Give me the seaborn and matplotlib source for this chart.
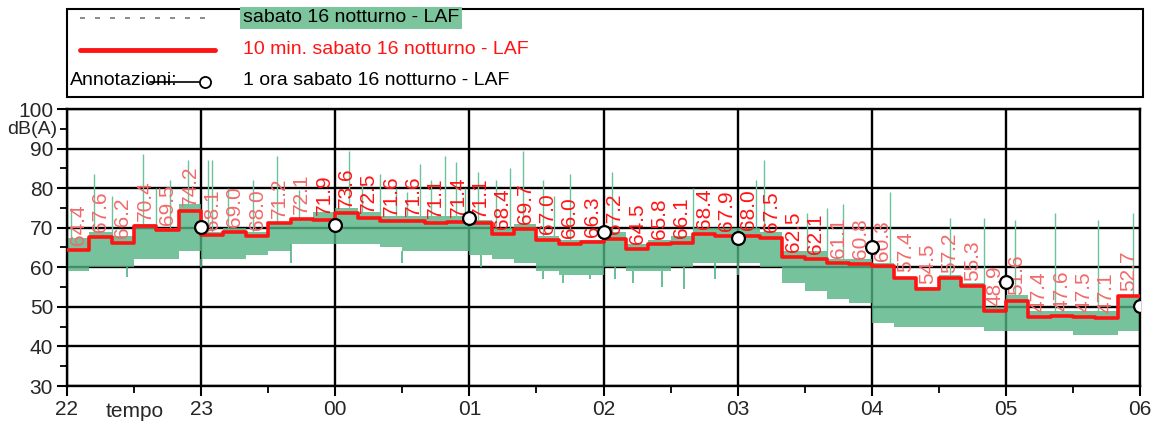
import numpy as np
import pandas as pd
import matplotlib
matplotlib.use("Agg")
import matplotlib.pyplot as plt
import seaborn as sns
from matplotlib.lines import Line2D
from matplotlib.patches import Rectangle

# ---------------- data ----------------
hour_labels = ["22", "23", "00", "01", "02", "03", "04", "05", "06"]

# 10-minute Leq values (22:00 ... 05:50), dB(A)
leq10 = [64.4, 67.6, 66.2, 70.4, 69.5, 74.2,
         68.1, 69.0, 68.0, 71.2, 72.1, 71.9,
         73.6, 72.5, 71.6, 71.6, 71.1, 71.4,
         71.1, 68.4, 69.7, 67.0, 66.0, 66.3,
         67.2, 64.5, 65.8, 66.1, 68.4, 67.9,
         68.0, 67.5, 62.5, 62.1, 61.1, 60.8,
         60.3, 57.4, 54.5, 57.2, 55.3, 48.9,
         51.6, 47.4, 47.6, 47.5, 47.1, 52.7]

# hourly Leq, plotted at the end of each hour (23 ... 06)
hourly = [70.2, 70.7, 72.5, 68.8, 67.3, 65.0, 56.2, 50.3]

# dense band of the LAF time history, per 10 minutes
band_low = [59, 60, 60, 62, 62, 64,
            62, 62, 63, 64, 66, 66,
            66, 66, 65, 64, 64, 64,
            63, 62, 61, 59, 58, 58,
            60, 59, 59, 60, 61, 61,
            61, 60, 56, 54, 52, 51,
            46, 45, 45, 45, 45, 44,
            44, 44, 44, 43, 43, 44]
band_high = [67.5, 69, 68, 71, 70, 76,
             69, 70, 69, 71, 72, 74,
             75, 74, 73, 73, 73, 73,
             72, 70, 71, 68, 67, 67,
             69, 66, 67, 68, 70, 70,
             70, 69, 64, 64, 62, 62,
             61, 57, 55, 58, 56, 50,
             53, 49, 49, 49, 49, 53]

# isolated upward peaks of the LAF trace: minutes after 22:00 and peak level
spike_min = [2, 12, 20, 34, 40, 46, 54, 63, 65, 72, 83, 94, 104,
             126, 140, 147, 158, 169, 174, 184, 192, 204, 213, 225,
             244, 280, 308, 312, 331, 340, 347, 368, 395, 410, 424,
             442, 461, 477, 132, 152, 163, 178, 198, 218]
spike_peak = [75, 83.7, 78, 88.7, 80, 82, 87, 87, 87, 80, 82, 88, 79.5,
              89.5, 83.7, 80, 86, 88, 86.5, 84, 82, 89.5, 82, 83.7,
              84, 80, 82, 87, 73.7, 75, 76, 79, 72.5, 72.5, 72,
              73.7, 72, 73.7, 81, 79, 82, 80, 85, 78]

# isolated downward dips of the LAF trace
dip_min = [27, 60, 100, 150, 185, 213, 222, 234, 245, 253, 266, 276, 290, 300]
dip_low = [57.5, 60, 61, 61, 60, 57, 56, 57, 57, 56, 55, 54.5, 57, 58]

# ---------------- styling ----------------
sns.set_theme(style="white")
plt.rcParams["font.family"] = ["Liberation Sans", "DejaVu Sans"]

W, H = 1156, 423
fig = plt.figure(figsize=(W / 100, H / 100), dpi=100)
fig.patch.set_facecolor("white")
x0, x1, y0, y1 = 67, 1140, 109, 386
ax = fig.add_axes([x0 / W, 1 - y1 / H, (x1 - x0) / W, (y1 - y0) / H])
ax.set_facecolor("white")

GREEN = "#52b383"
RED = "#ff1414"

t10 = np.arange(len(leq10)) / 6.0
t_edges = np.append(t10, len(leq10) / 6.0)
last = len(band_high) - 1

# LAF band
ax.fill_between(t_edges, band_low + [band_low[-1]], band_high + [band_high[-1]],
                step="post", color=GREEN, lw=0, alpha=0.8, zorder=2)
spike_t = np.array(spike_min) / 60.0
spike_base = [band_high[min(int(m // 10), last)] for m in spike_min]
ax.vlines(spike_t, spike_base, spike_peak, color="#6cc29a", lw=1.0, zorder=2)
dip_t = np.array(dip_min) / 60.0
dip_base = [band_low[min(int(m // 10), last)] for m in dip_min]
ax.vlines(dip_t, dip_low, dip_base, color="#52b383", lw=1.2, zorder=2)

# 10 min steps
df10 = pd.DataFrame({"t": t_edges, "L": leq10 + [leq10[-1]]})
sns.lineplot(data=df10, x="t", y="L", ax=ax, color=RED, lw=2.6,
             drawstyle="steps-post", estimator=None, zorder=4)

# labels of the 10 min values
for i, v in enumerate(leq10):
    faded = i <= 10 or i >= 34
    ax.text(t10[i] + 1 / 12, v + 1.3, f"{v:.1f}", rotation=90, ha="center",
            va="bottom", color="#f26a6a" if faded else RED, fontsize=15, zorder=5)

# hourly circles
dfh = pd.DataFrame({"t": np.arange(1, len(hourly) + 1), "L": hourly})
sns.scatterplot(data=dfh, x="t", y="L", ax=ax, s=85, color="white",
                edgecolor="black", linewidth=1.6, zorder=6)

# axes
ax.set_xlim(0, 8)
ax.set_ylim(30, 100)
ax.set_xticks(range(9))
ax.set_xticklabels(hour_labels)
ax.set_xticks(np.arange(0.5, 8, 1.0), minor=True)
ax.set_yticks(range(30, 101, 10))
ax.set_yticks(range(35, 100, 10), minor=True)
ax.set_xlabel("")
ax.set_ylabel("")
ax.grid(True, which="major", color="black", lw=1.7)
ax.set_axisbelow(True)
for s in ax.spines.values():
    s.set_color("black")
    s.set_linewidth(1.7)
ax.tick_params(which="major", direction="out", length=7, width=1.5, color="black",
               labelsize=15, pad=3, bottom=True, left=True)
ax.tick_params(which="minor", direction="out", length=5, width=1.3, color="black",
               bottom=True, left=True)

fig.text(135 / W, 1 - 411 / H, "tempo", ha="center", va="center", fontsize=15)
fig.text(57 / W, 1 - 130 / H, "dB(A)", ha="right", va="center", fontsize=14)

# legend box (drawn manually)
fig.patches.append(Rectangle((67 / W, 1 - 97 / H), (1143 - 67) / W, (97 - 9) / H,
                             transform=fig.transFigure, fill=False,
                             edgecolor="black", lw=1.5))
fig.lines.append(Line2D([80 / W, 215 / W], [1 - 18 / H, 1 - 18 / H],
                        transform=fig.transFigure, color="#777777", lw=1.2,
                        ls=(0, (3, 6))))
fig.text(243 / W, 1 - 18 / H, "sabato 16 notturno - LAF", ha="left", va="center",
         fontsize=14, color="black",
         bbox=dict(boxstyle="square,pad=0.15", fc="#7cc49c", ec="none"))
fig.lines.append(Line2D([80 / W, 215 / W], [1 - 50 / H, 1 - 50 / H],
                        transform=fig.transFigure, color=RED, lw=3.5))
fig.text(243 / W, 1 - 50 / H, "10 min. sabato 16 notturno - LAF", ha="left",
         va="center", fontsize=14, color=RED)
fig.text(70 / W, 1 - 80 / H, "Annotazioni:", ha="left", va="center", fontsize=14,
         color="black")
fig.lines.append(Line2D([150 / W, 205 / W], [1 - 82 / H, 1 - 82 / H],
                        transform=fig.transFigure, color="black", lw=1.2))
fig.lines.append(Line2D([205 / W], [1 - 82 / H], transform=fig.transFigure,
                        marker="o", ms=8, mfc="white", mec="black", mew=1.3))
fig.text(243 / W, 1 - 80 / H, "1 ora sabato 16 notturno - LAF", ha="left",
         va="center", fontsize=14, color="black")

fig.savefig("out.png", dpi=100, facecolor="white")
